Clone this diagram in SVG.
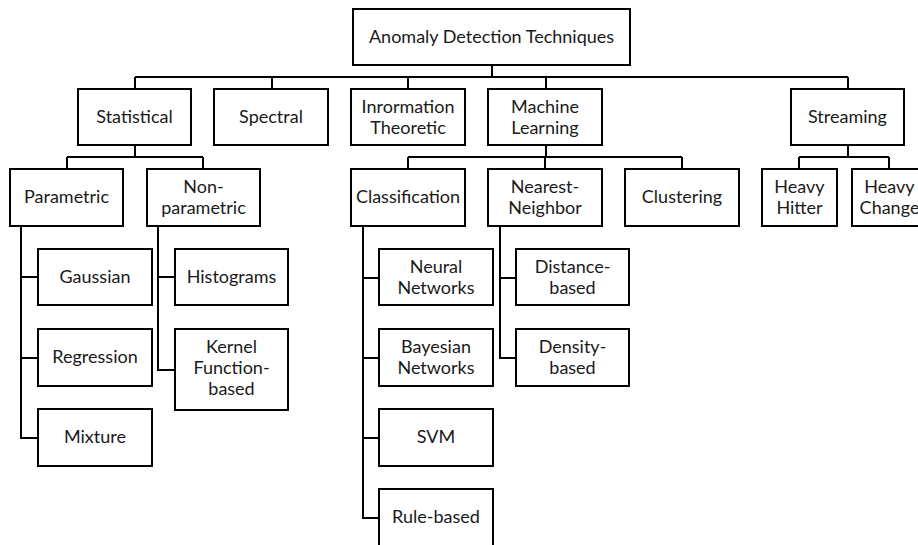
<svg xmlns="http://www.w3.org/2000/svg" width="918" height="545" viewBox="0 0 918 545">
<style>
.b{fill:#fff;stroke:#000;stroke-width:2}
.c{fill:none;stroke:#000;stroke-width:2}
text{font-family:Lato,"Liberation Sans",sans-serif;font-size:18px;fill:#1a1a1a;text-anchor:middle}
</style>
<rect width="918" height="545" fill="#fff"/>
<g id="connectors">
<path class="c" d="M492,65V77M135,77H848M135,77V89M272,77V89M408,77V89M546,77V89M848,77V89"/>
<path class="c" d="M135,145V157M67,157H203M67,157V169M203,157V169"/>
<path class="c" d="M546,145V157M408,157H682M408,157V169M545,157V169M682,157V169"/>
<path class="c" d="M848,145V157M799,157H889M799,157V169M889,157V169"/>
<path class="c" d="M21,226V438H38M21,277H38M21,358H38"/>
<path class="c" d="M158,226V370H175M158,277H175"/>
<path class="c" d="M363,226V518H379M363,278H379M363,358H379M363,438H379"/>
<path class="c" d="M500,226V358H516M500,278H516"/>
</g>
<g id="root"><rect class="b" x="353" y="9" width="277" height="56"/><text x="491.5" y="43">Anomaly Detection Techniques</text></g>
<g id="statistical"><rect class="b" x="78" y="89" width="113" height="56"/><text x="134.5" y="123">Statistical</text></g>
<g id="spectral"><rect class="b" x="214" y="89" width="114" height="56"/><text x="271" y="123">Spectral</text></g>
<g id="information"><rect class="b" x="351" y="89" width="114" height="56"/><text x="408" y="113">Inrormation</text><text x="408" y="134">Theoretic</text></g>
<g id="ml"><rect class="b" x="488" y="89" width="114" height="56"/><text x="545" y="113">Machine</text><text x="545" y="134">Learning</text></g>
<g id="streaming"><rect class="b" x="791" y="89" width="113" height="56"/><text x="847.5" y="123">Streaming</text></g>
<g id="parametric"><rect class="b" x="10" y="169" width="113" height="57"/><text x="66.5" y="203">Parametric</text></g>
<g id="nonparametric"><rect class="b" x="147" y="169" width="113" height="57"/><text x="203.5" y="193">Non-</text><text x="203.5" y="214">parametric</text></g>
<g id="classification"><rect class="b" x="351" y="169" width="114" height="57"/><text x="408" y="203">Classification</text></g>
<g id="nearest"><rect class="b" x="488" y="169" width="114" height="57"/><text x="545" y="193">Nearest-</text><text x="545" y="214">Neighbor</text></g>
<g id="clustering"><rect class="b" x="625" y="169" width="114" height="57"/><text x="682" y="203">Clustering</text></g>
<g id="heavyhitter"><rect class="b" x="762" y="169" width="75" height="57"/><text x="799.5" y="193">Heavy</text><text x="799.5" y="214">Hitter</text></g>
<g id="heavychange"><rect class="b" x="852" y="169" width="75" height="57"/><text x="889.5" y="193">Heavy</text><text x="889.5" y="214">Change</text></g>
<g id="gaussian"><rect class="b" x="38" y="249" width="114" height="56"/><text x="95" y="283">Gaussian</text></g>
<g id="regression"><rect class="b" x="38" y="329" width="114" height="57"/><text x="95" y="363">Regression</text></g>
<g id="mixture"><rect class="b" x="38" y="409" width="114" height="57"/><text x="95" y="443">Mixture</text></g>
<g id="histograms"><rect class="b" x="175" y="249" width="113" height="56"/><text x="231.5" y="283">Histograms</text></g>
<g id="kernel"><rect class="b" x="175" y="329" width="113" height="81"/><text x="231.5" y="353">Kernel</text><text x="231.5" y="374">Function-</text><text x="231.5" y="395">based</text></g>
<g id="neural"><rect class="b" x="379" y="249" width="114" height="56"/><text x="436" y="273">Neural</text><text x="436" y="294">Networks</text></g>
<g id="bayesian"><rect class="b" x="379" y="329" width="114" height="57"/><text x="436" y="353">Bayesian</text><text x="436" y="374">Networks</text></g>
<g id="svm"><rect class="b" x="379" y="409" width="114" height="57"/><text x="436" y="443">SVM</text></g>
<g id="rulebased"><rect class="b" x="379" y="489" width="114" height="60"/><text x="436" y="523">Rule-based</text></g>
<g id="distance"><rect class="b" x="516" y="249" width="113" height="56"/><text x="572.5" y="273">Distance-</text><text x="572.5" y="294">based</text></g>
<g id="density"><rect class="b" x="516" y="329" width="113" height="57"/><text x="572.5" y="353">Density-</text><text x="572.5" y="374">based</text></g>
</svg>
